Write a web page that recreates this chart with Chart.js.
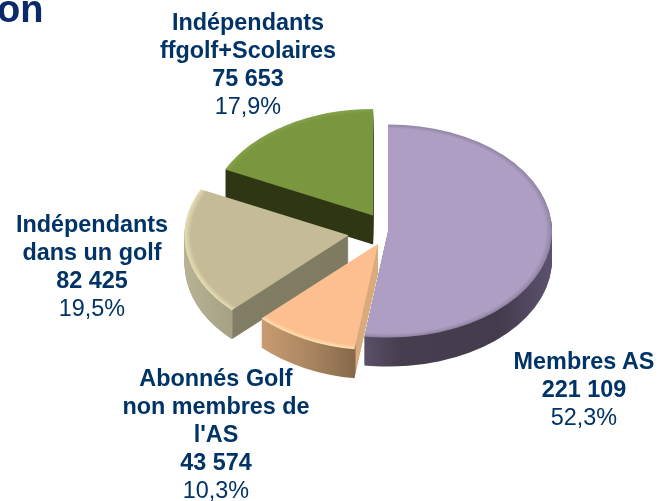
<!DOCTYPE html>
<html lang="fr">
<head>
<meta charset="utf-8">
<title>Membres AS</title>
<script src="https://cdn.jsdelivr.net/npm/chart.js@4/dist/chart.umd.min.js"></script>
<style>
    html, body { margin: 0; padding: 0; background: #fff; overflow: hidden; }
    #wrap { position: relative; width: 660px; height: 501px; overflow: hidden; font-family: "Liberation Sans", Arial, sans-serif; }
    canvas { position: absolute; left: 0; top: 0; }
    .lbl { position: absolute; transform: translateX(-50%); text-align: center; white-space: nowrap; color: #003366; font-size: 23.4px; line-height: 28px; font-weight: bold; }
    .lbl span { display: block; }
    .lbl .pct { font-weight: normal; }
    #heading { position: absolute; left: -3px; top: -13px; color: #0b2a6b; font-size: 38px; line-height: 44px; font-weight: bold; }
</style>
</head>
<body>
<div id="wrap">
    <canvas id="pie" width="660" height="501"></canvas>
    <div id="heading">on</div>
</div>
<script>
    const categories = [
        ['Membres AS'],
        ['Abonnés Golf', 'non membres de', "l'AS"],
        ['Indépendants', 'dans un golf'],
        ['Indépendants', 'ffgolf+Scolaires']
    ];
    const valueLabels = ['221 109', '43 574', '82 425', '75 653'];
    const values = [221109, 43574, 82425, 75653];
    const percentLabels = ['52,3%', '10,3%', '19,5%', '17,9%'];
    const sliceColors = ['#ae9ec3', '#fdbf90', '#c5bc97', '#7a963f'];

    // Look of the fake 3D: squash, wall height, how far each slice is pulled out
    const SQUASH = 0.65;
    const DEPTH = 29;
    const explode = [0, 22, 40, 28];
    const drawOrder = [3, 2, 0, 1];
    const rimColors = ['#8f83a3', '#ffe3b0', '#e6dfb5', '#86a24a'];
    const wallStops = [
        [[365, '#5b5069'], [400, '#463d4e'], [500, '#443b4d'], [552, '#5c5270']],
        [[260, '#c99c72'], [310, '#a98660'], [355, '#85684a'], [356, '#d8aa7c'], [378, '#d8aa7c']],
        [[183, '#b8b394'], [232, '#a5a184'], [233, '#827d65'], [348, '#7f7a62']],
        [[229, '#2f3613'], [375, '#2f3613']]
    ];
    const labelPos = [[584, 347], [216, 364], [92, 210], [248, 8]];

    const pie3d = {
        id: 'pie3d',
        beforeDatasetDraw: function(chart, args) {
            const ctx = chart.ctx;
            const arcs = args.meta.data;

            drawOrder.forEach(function(i) {
                const arc = arcs[i];
                const base = arc.options;
                const mid = (arc.startAngle + arc.endAngle) / 2;
                const dx = Math.cos(mid) * explode[i];
                const dy = Math.sin(mid) * explode[i];

                const place = function(shift) {
                    ctx.save();
                    ctx.translate(arc.x, arc.y + shift);
                    ctx.scale(1, SQUASH);
                    ctx.translate(dx - arc.x, dy - arc.y);
                };

                // wall, gradient is in slice space so take the pull-out off the stops
                const stops = wallStops[i];
                const x0 = stops[0][0];
                const span = stops[stops.length - 1][0] - x0;
                const wall = ctx.createLinearGradient(x0 - dx, 0, x0 + span - dx, 0);
                stops.forEach(function(s) { wall.addColorStop((s[0] - x0) / span, s[1]); });
                arc.options = Object.assign({}, base, { backgroundColor: wall });
                for (let d = DEPTH; d > 0; d--) {
                    place(d);
                    arc.draw(ctx);
                    ctx.restore();
                }

                // top face, with a thin bevel on the outer rim
                const top = ctx.createRadialGradient(arc.x, arc.y, 0, arc.x, arc.y, arc.outerRadius);
                top.addColorStop(0, sliceColors[i]);
                top.addColorStop(0.96, sliceColors[i]);
                top.addColorStop(1, rimColors[i]);
                arc.options = Object.assign({}, base, { backgroundColor: top });
                place(0);
                arc.draw(ctx);
                ctx.restore();
                arc.options = base;
            });
            return false;
        }
    };

    new Chart(document.getElementById('pie'), {
        type: 'pie',
        data: {
            labels: categories.map(function(c) { return c.join(' '); }),
            datasets: [{
                data: values,
                backgroundColor: sliceColors,
                borderWidth: 0,
                radius: 164,
                clip: false
            }]
        },
        options: {
            responsive: false,
            animation: false,
            layout: { padding: { left: 116, bottom: 39 } },
            plugins: { legend: { display: false }, tooltip: { enabled: false } }
        },
        plugins: [pie3d]
    });

    const wrap = document.getElementById('wrap');
    categories.forEach(function(lines, i) {
        const box = document.createElement('div');
        box.className = 'lbl';
        box.style.left = labelPos[i][0] + 'px';
        box.style.top = labelPos[i][1] + 'px';
        lines.concat(valueLabels[i]).forEach(function(t) {
            const row = document.createElement('span');
            row.textContent = t;
            box.appendChild(row);
        });
        const pct = document.createElement('span');
        pct.className = 'pct';
        pct.textContent = percentLabels[i];
        box.appendChild(pct);
        wrap.appendChild(box);
    });
</script>
</body>
</html>
